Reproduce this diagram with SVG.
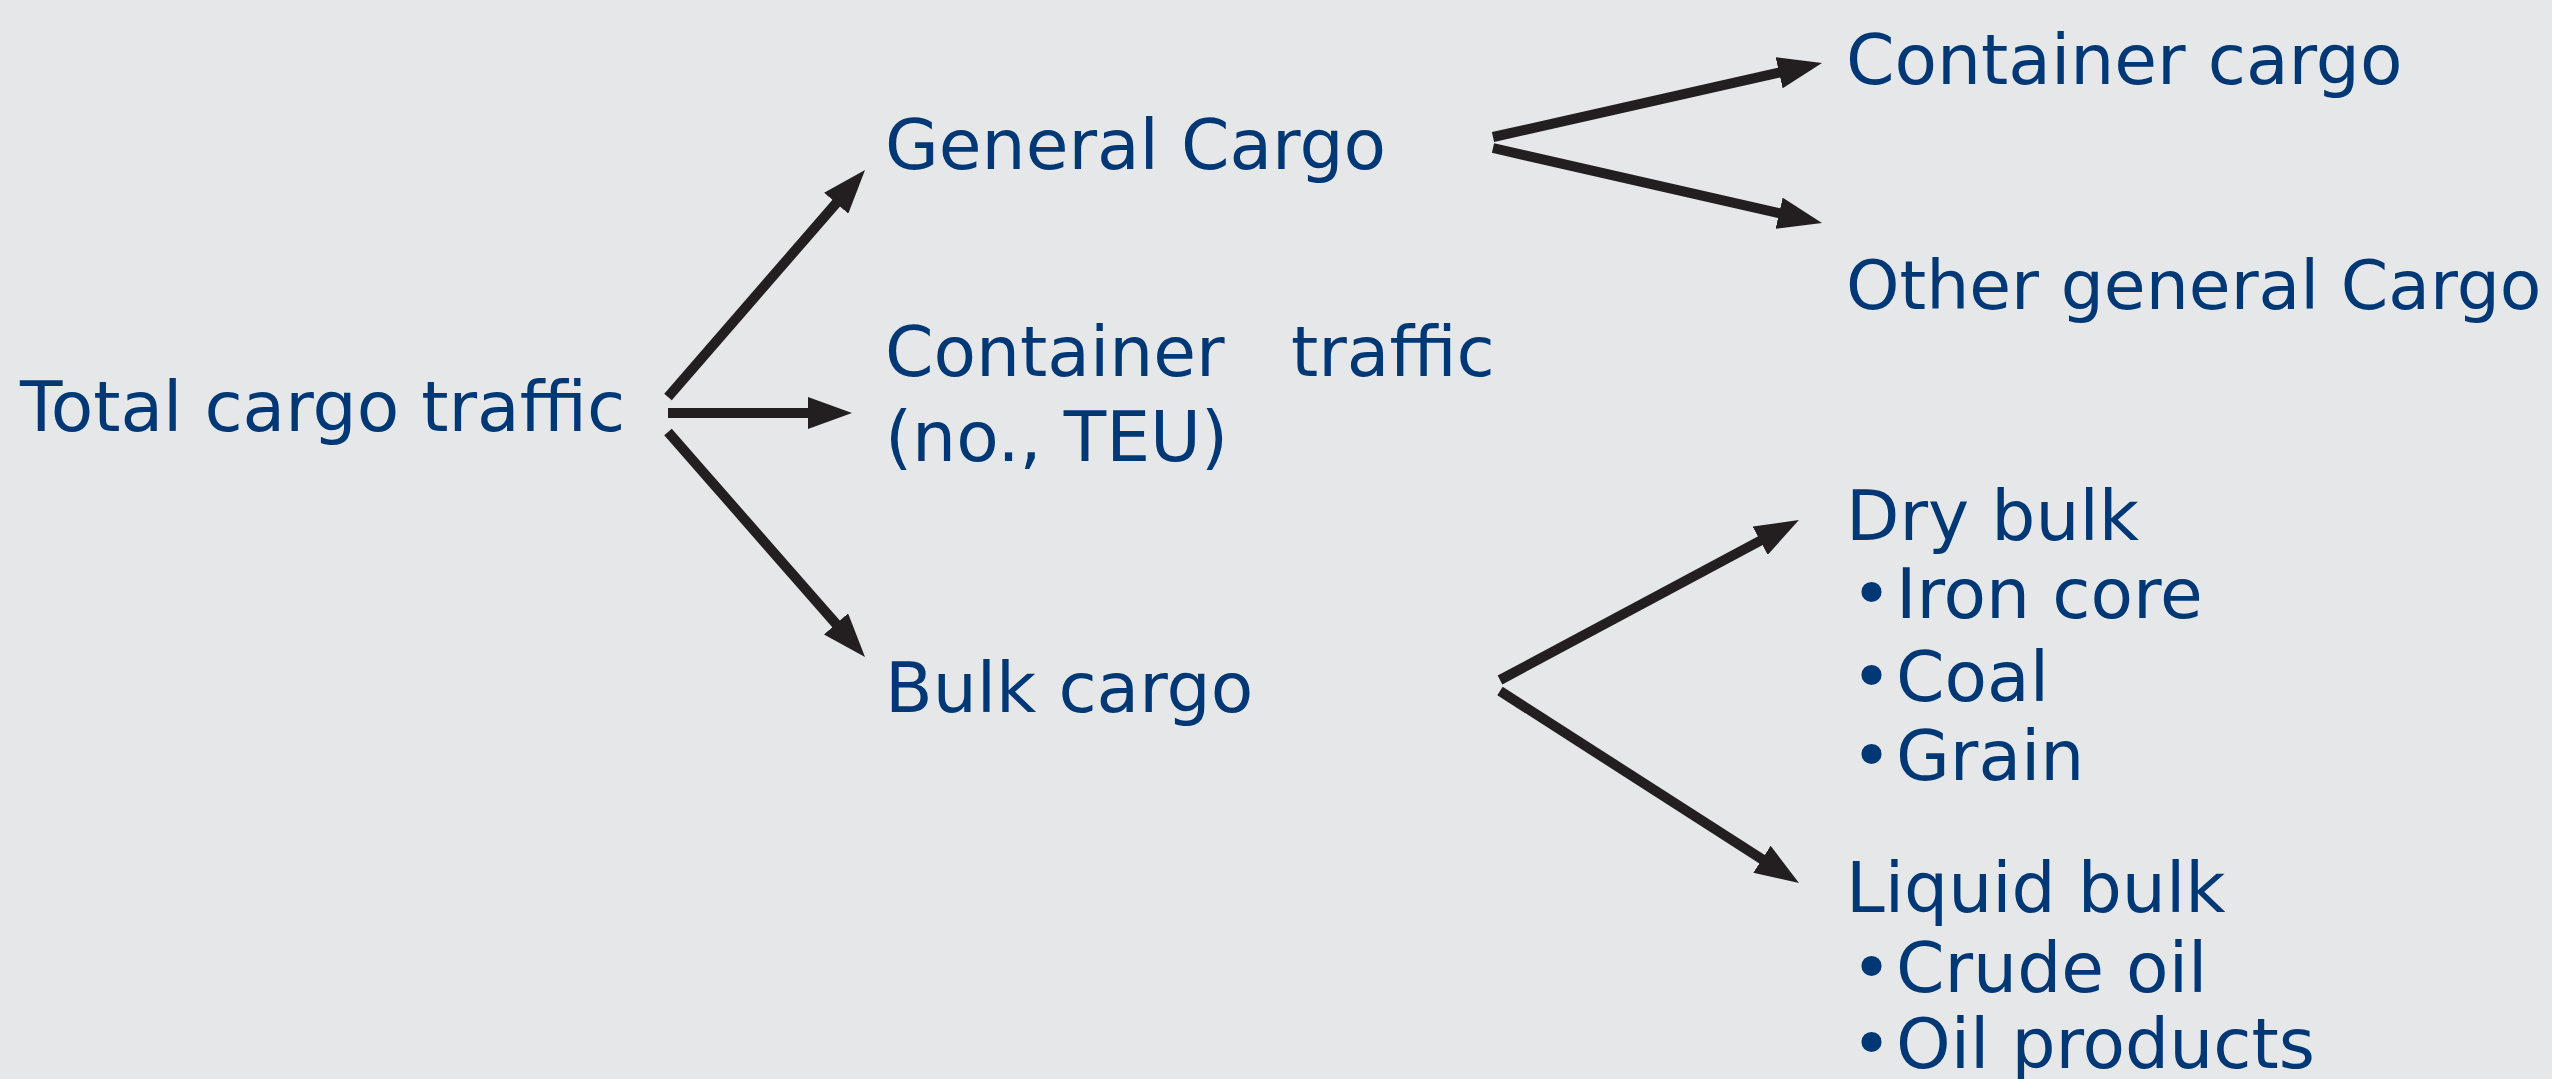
<svg xmlns="http://www.w3.org/2000/svg" width="2552" height="1079" viewBox="0 0 2552 1079">
<defs>
<marker id="ah" markerUnits="userSpaceOnUse" viewBox="0 -16 44 32" refX="20" refY="0" markerWidth="44" markerHeight="32" orient="auto">
<path d="M0,-16 L44,0 L0,16 Z" fill="#231f20"/>
</marker>
<style>
.t{font-family:"DejaVu Sans","Liberation Sans",sans-serif;font-size:69.5px;fill:#003876}
.c{stroke:#231f20;stroke-width:10;fill:none;marker-end:url(#ah)}
</style>
</defs>
<rect x="0" y="0" width="2552" height="1079" fill="#e6e7e9"/>
<g id="connectors">
<line class="c" x1="668" y1="397" x2="849.3" y2="188.1"/>
<line class="c" x1="668" y1="413" x2="828" y2="413"/>
<line class="c" x1="668" y1="432" x2="849.2" y2="638.9"/>
<line class="c" x1="1493" y1="137" x2="1798.6" y2="68.3"/>
<line class="c" x1="1493" y1="148" x2="1798.6" y2="217.7"/>
<line class="c" x1="1500" y1="680" x2="1777.8" y2="531.3"/>
<line class="c" x1="1500" y1="691" x2="1778.8" y2="870"/>
</g>
<g id="total"><text class="t" x="20" y="431">Total cargo traffic</text></g>
<g id="general"><text class="t" x="885" y="169">General Cargo</text></g>
<g id="container-traffic"><text class="t" y="376"><tspan x="885">Container</tspan><tspan x="1291">traffic</tspan></text><text class="t" x="885" y="461">(no., TEU)</text></g>
<g id="bulk"><text class="t" x="885" y="712">Bulk cargo</text></g>
<g id="container-cargo"><text class="t" x="1846" y="84">Container cargo</text></g>
<g id="other-general"><text class="t" x="1846" y="309" style="font-size:68px">Other general Cargo</text></g>
<g id="dry-bulk">
<text class="t" x="1846" y="540">Dry bulk</text>
<text class="t" y="618"><tspan x="1851">•</tspan><tspan x="1896">Iron core</tspan></text>
<text class="t" y="701"><tspan x="1851">•</tspan><tspan x="1896">Coal</tspan></text>
<text class="t" y="780"><tspan x="1851">•</tspan><tspan x="1896">Grain</tspan></text>
</g>
<g id="liquid-bulk">
<text class="t" x="1846" y="912">Liquid bulk</text>
<text class="t" y="992"><tspan x="1851">•</tspan><tspan x="1896">Crude oil</tspan></text>
<text class="t" y="1068"><tspan x="1851">•</tspan><tspan x="1896">Oil products</tspan></text>
</g>
</svg>
